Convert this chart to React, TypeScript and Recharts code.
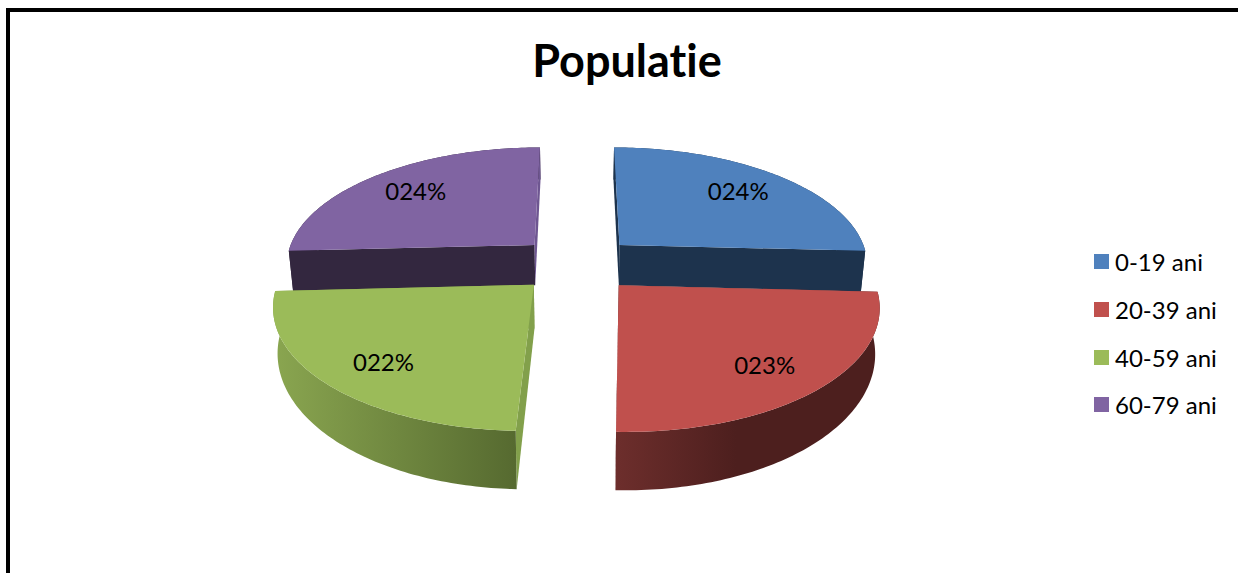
import React from 'react';
import { PieChart, Pie, Legend } from 'recharts';

const categories = ['0-19 ani', '20-39 ani', '40-59 ani', '60-79 ani'];
const values = [24, 23, 22, 24];
const labels = ['024%', '023%', '022%', '024%'];
const topColors = ['#4f81bd', '#c0504d', '#9bbb59', '#8064a2'];
const startWallColors = ['#1d334d', '#4d1f1e', '#82a04b', '#33273f'];
const endWallColors = ['#1d334d', '#4d1f1e', '#82a04b', '#6e5691'];
const arcStops = [
  ['#1d334d', '#1d334d'],
  ['#6d2e2c', '#4d1f1e'],
  ['#8aa650', '#566a30'],
  ['#33273f', '#33273f'],
];

// purple goes first so that the front slices are painted over its wall
const drawOrder = [3, 0, 1, 2];
const pieData = drawOrder.map((i) => ({ name: categories[i], value: values[i], idx: i }));
const total = values.reduce((a, b) => a + b, 0);
const firstAngle = 90 + (360 * values[drawOrder[0]]) / total;

const RAD = Math.PI / 180;
const TILT = 0.47;
const PERSPECTIVE = 0.15;
const EXPLODE = 0.24;
const DEPTH = 42;

// unit pie coordinates -> screen, v grows toward the viewer
const project = (cx: number, cy: number, r: number, u: number, v: number) => {
  const s = 1 / (1 - PERSPECTIVE * v);
  return { x: cx + r * u * s, y: cy + r * TILT * v * s, s };
};

const sectorPoint = (p: any, radius: number, angle: number) => {
  const u = EXPLODE * Math.cos(p.midAngle * RAD) + radius * Math.cos(angle * RAD);
  const v = -EXPLODE * Math.sin(p.midAngle * RAD) - radius * Math.sin(angle * RAD);
  return project(p.cx, p.cy, p.outerRadius, u, v);
};

const lowered = (cx: number, pt: { x: number; y: number; s: number }) => ({
  x: cx + (pt.x - cx) * 0.985,
  y: pt.y + DEPTH * Math.pow(pt.s, 1.7),
  s: pt.s,
});

const toPath = (pts: { x: number; y: number }[]) =>
  pts.map((q, i) => `${i ? 'L' : 'M'}${q.x.toFixed(2)} ${q.y.toFixed(2)}`).join(' ') + ' Z';

const Sector3D = (props: any) => {
  const { cx, startAngle, endAngle, midAngle, payload } = props;
  const idx = payload.idx;
  const steps = Math.max(2, Math.ceil(Math.abs(endAngle - startAngle)));
  const arc = [];
  for (let i = 0; i <= steps; i++) {
    arc.push(sectorPoint(props, 1, startAngle + ((endAngle - startAngle) * i) / steps));
  }
  const apex = sectorPoint(props, 0, midAngle);
  const arcLow = arc.map((q) => lowered(cx, q));
  const apexLow = lowered(cx, apex);
  const gradId = `arc-${idx}`;
  const xs = arc.map((q) => q.x);
  const band = <path d={toPath([...arc, ...arcLow.slice().reverse()])} fill={`url(#${gradId})`} />;
  const startWall = (
    <path d={toPath([apex, arc[0], arcLow[0], apexLow])} fill={startWallColors[idx]} />
  );
  const endWall = (
    <path
      d={toPath([apex, arc[steps], arcLow[steps], apexLow])}
      fill={endWallColors[idx]}
    />
  );
  const isBack = Math.sin(midAngle * RAD) > 0;
  return (
    <g>
      <defs>
        <linearGradient
          id={gradId}
          gradientUnits="userSpaceOnUse"
          x1={Math.min(...xs)}
          x2={idx === 1 ? Math.min(...xs) + 120 : Math.max(...xs)}
          y1={0}
          y2={0}
        >
          <stop offset="0%" stopColor={arcStops[idx][0]} />
          <stop offset="100%" stopColor={arcStops[idx][1]} />
        </linearGradient>
      </defs>
      {isBack && band}
      {startWall}
      {endWall}
      {!isBack && band}
      <path d={toPath([apex, ...arc])} fill={topColors[idx]} />
    </g>
  );
};

const renderLabel = (props: any) => {
  const midAngle = props.midAngle;
  const pt = sectorPoint(props, 0.72, midAngle);
  const front = Math.sin(midAngle * RAD) < 0;
  return (
    <text
      x={pt.x + (front ? 6 : 3) * Math.sign(pt.x - props.cx)}
      y={pt.y + (front ? 8 : -3)}
      textAnchor="middle"
      dominantBaseline="central"
      fill="#000"
      fontSize={24}
      fontFamily="Lato, sans-serif"
    >
      {labels[props.payload.idx]}
    </text>
  );
};

const renderLegend = () => (
  <div style={{ fontFamily: 'Lato, sans-serif', fontSize: 24, color: '#000' }}>
    {categories.map((c, i) => (
      <div key={c} style={{ display: 'flex', alignItems: 'center', height: 47.7 }}>
        <span style={{ width: 15, height: 15, background: topColors[i], marginRight: 6 }} />
        <span>{c}</span>
      </div>
    ))}
  </div>
);

export default function App() {
  return (
    <div style={{ position: 'absolute', left: 0, top: 0, width: 1238, height: 573, background: '#fff', overflow: 'hidden' }}>
      <div style={{ position: 'absolute', left: 6, top: 8, right: -10, bottom: -10, borderLeft: '4px solid #000', borderTop: '4px solid #000' }} />
      <div
        style={{
          position: 'absolute',
          left: 427,
          width: 400,
          top: 33,
          textAlign: 'center',
          fontFamily: 'Lato, sans-serif',
          fontWeight: 700,
          fontSize: 45,
          lineHeight: '54px',
          fontVariantLigatures: 'none',
          color: '#000',
        }}
      >
        Populatie
      </div>
      <div style={{ position: 'absolute', left: 0, top: 0 }}>
        <PieChart width={1238} height={573} margin={{ top: 0, right: 0, bottom: 0, left: 0 }}>
          <Pie
            data={pieData}
            dataKey="value"
            nameKey="name"
            cx={577}
            cy={264}
            outerRadius={250}
            startAngle={firstAngle}
            endAngle={firstAngle - 360}
            stroke="none"
            isAnimationActive={false}
            labelLine={false}
            label={renderLabel}
            shape={Sector3D}
          />
          <Legend
            layout="vertical"
            align="right"
            verticalAlign="top"
            wrapperStyle={{ left: 1094, right: 'auto', top: 238, width: 140 }}
            content={renderLegend}
          />
        </PieChart>
      </div>
    </div>
  );
}
